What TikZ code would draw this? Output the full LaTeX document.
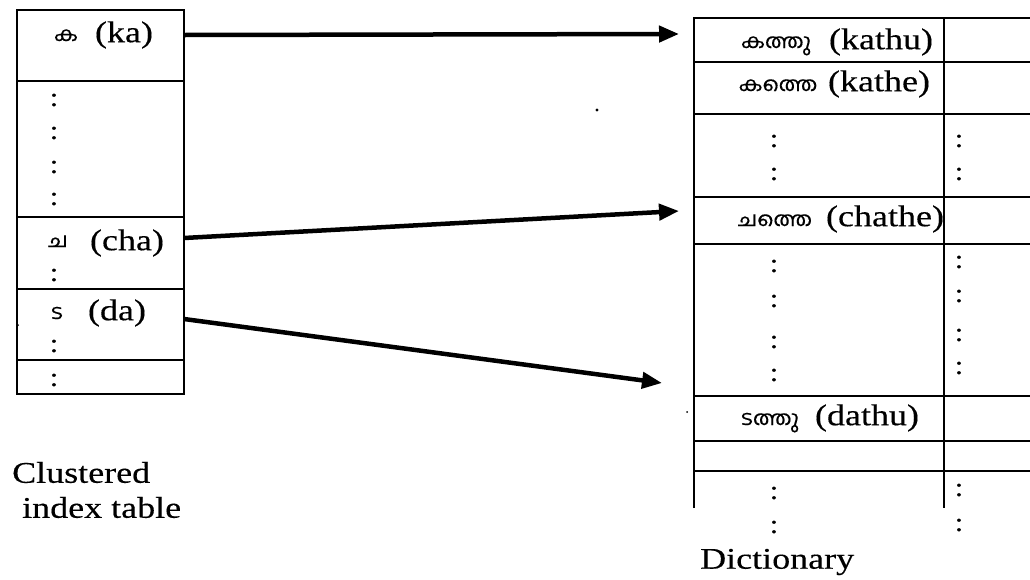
\documentclass[tikz,border=0pt]{standalone}
\usepackage{fontspec}
\setmainfont[FakeStretch=1.2,FakeBold=0.3]{Liberation Serif}
\newfontfamily\mal[Script=Malayalam,FakeStretch=1.1,FakeBold=0.3]{Hind Kochi}
\usetikzlibrary{arrows.meta}
\tikzset{
  tbl/.style={line width=2pt, draw=black},
  lat/.style={inner sep=0pt, font=\fontsize{30}{36}\selectfont},
  mall/.style={inner sep=0pt, text height=11pt, text depth=1pt, font=\mal\fontsize{20}{24}\selectfont},
  colon/.style={inner sep=0pt, font=\fontsize{26}{30}\selectfont},
  caption/.style={inner sep=0pt, font=\fontsize{30}{35}\selectfont, align=left},
  link/.style={line width=4.5pt, -{Triangle[length=20pt,width=16pt]}}
}
\begin{document}
\begin{tikzpicture}[x=1pt,y=-1pt]
\useasboundingbox (0,0) rectangle (1030,579);
% left table
\draw[tbl] (17,10) rectangle (184,394);
\foreach \yy in {81,217,289,360} \draw[tbl] (17,\yy) -- (184,\yy);
% right table
\draw[tbl] (694,508) -- (694,18) -- (1030,18);
\draw[tbl] (944,18) -- (944,508);
\foreach \yy in {62,114,197,244,396,441,471} \draw[tbl] (694,\yy) -- (1030,\yy);
% left labels
\node[mall] (kam) at (66,36) {ക};
\node[lat] (ka) at (124,35) {(ka)};
\node[mall] (cham) at (58,242) {ച};
\node[lat] (cha) at (127,243) {(cha)};
\node[mall] (dam) at (57,314) {ട};
\node[lat] (da) at (117,313) {(da)};
% right labels
\node[mall] (kathum) at (776,43) {കത്തു};
\node[lat] (kathu) at (881,42) {(kathu)};
\node[mall] (kathem) at (778,86) {കത്തെ};
\node[lat] (kathe) at (879,84) {(kathe)};
\node[mall] (chathem) at (775,221) {ചത്തെ};
\node[lat] (chathe) at (885,219) {(chathe)};
\node[mall] (dathum) at (770,420) {ടത്തു};
\node[lat] (dathu) at (867,418) {(dathu)};
% colons
\foreach \yy [count=\i] in {100,133,167,199,275,346,380}
  \node[colon] (lc\i) at (54,\yy) {:};
\foreach \yy [count=\i] in {141,174,266,301,342,375,493,527}
  \node[colon] (rc\i) at (774,\yy) {:};
\foreach \yy [count=\i] in {141,174,262,296,335,368,490,525}
  \node[colon] (rr\i) at (959,\yy) {:};
% captions
\node[caption, anchor=west] (cap1) at (12,490) {Clustered\\\hspace*{10pt}index table};
\node[caption, anchor=west] (cap2) at (700,562) {Dictionary};
% arrows
\coordinate (s1) at (184,35);
\coordinate (t1) at (679,34);
\coordinate (s2) at (184,238);
\coordinate (t2) at (679,211);
\coordinate (s3) at (184,319);
\coordinate (t3) at (662,383);
\draw[link] (s1) -- (t1);
\draw[link] (s2) -- (t2);
\draw[link] (s3) -- (t3);
% stray marks
\fill (597,110) circle (1.6pt);
\fill (18,325) circle (1pt);
\fill (687,412) circle (1pt);
\end{tikzpicture}
\end{document}
